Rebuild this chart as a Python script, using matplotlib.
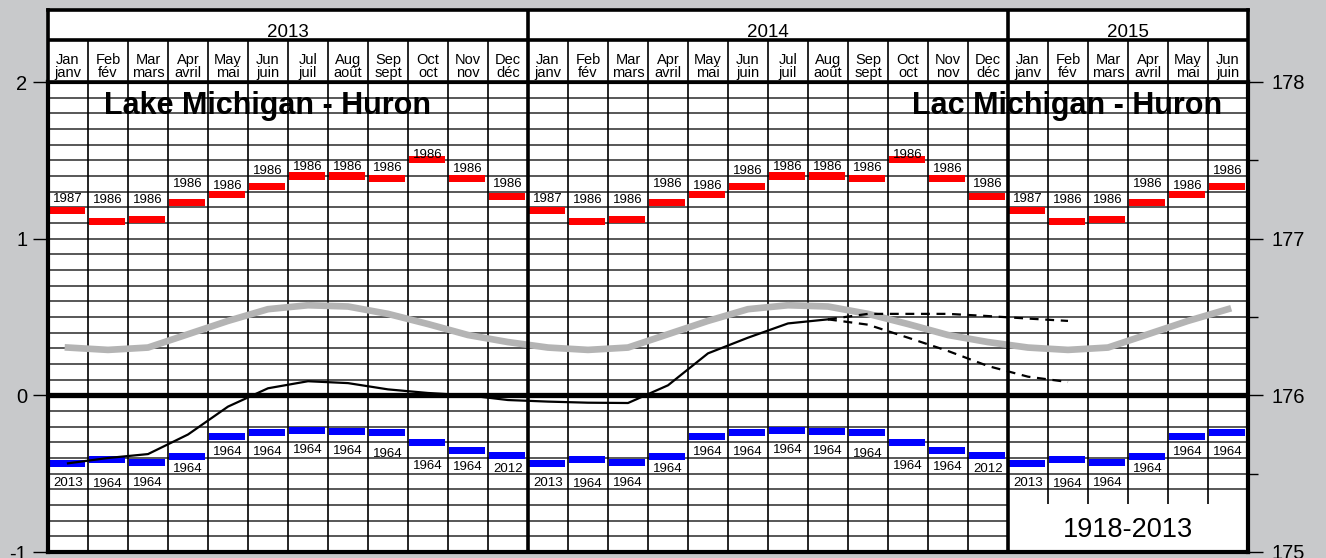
import matplotlib.pyplot as plt
from matplotlib.patches import Rectangle

plt.rcParams['font.family'] = ['Liberation Sans', 'DejaVu Sans']
plt.rcParams['axes.unicode_minus'] = False

# header labels
years = ["2013", "2014", "2015"]
months_en = ["Jan", "Feb", "Mar", "Apr", "May", "Jun", "Jul", "Aug", "Sep", "Oct", "Nov", "Dec"]
months_fr = ["janv", "fév", "mars", "avril", "mai", "juin", "juil", "août", "sept", "oct", "nov", "déc"]
n_months = 30  # Jan 2013 .. Jun 2015

# monthly records and long-term mean (1918-2013), metres above chart datum
record_high = [1.18, 1.112, 1.121, 1.229, 1.28, 1.33, 1.40, 1.40, 1.385, 1.504, 1.383, 1.268]
record_high_year = ["1987", "1986", "1986", "1986", "1986", "1986",
                    "1986", "1986", "1986", "1986", "1986", "1986"]
record_low = [-0.436, -0.41, -0.43, -0.391, -0.264, -0.238,
              -0.225, -0.231, -0.238, -0.302, -0.353, -0.385]
record_low_year = ["2013", "1964", "1964", "1964", "1964", "1964",
                   "1964", "1964", "1964", "1964", "1964", "2012"]
long_term_mean = [0.305, 0.29, 0.305, 0.39, 0.475, 0.55, 0.575, 0.567, 0.52, 0.455, 0.385, 0.34]

# recorded levels Jan 2013 - Aug 2014
observed = [-0.434, -0.40, -0.375, -0.25, -0.072, 0.045, 0.09, 0.078, 0.038, 0.015, 0.0, -0.03,
            -0.04, -0.047, -0.049, 0.064, 0.268, 0.368, 0.459, 0.485]
# projected range Aug 2014 - Feb 2015
forecast_high = [0.485, 0.52, 0.52, 0.52, 0.506, 0.49, 0.475]
forecast_low = [0.485, 0.451, 0.368, 0.283, 0.187, 0.119, 0.085]

# label offsets from the bars (pixels), as placed on the original
high_label_off = [11, 21, 20, 19, 9, 16, 9, 9, 10, 5, 10, 13]
low_label_off = [19, 24, 20, 12, 15, 19, 19, 19, 21, 23, 16, 13]

W, H = 1326, 558
fig = plt.figure(figsize=(W / 100, H / 100), dpi=100, facecolor="#c8c9cb")

# ---- main chart
ax = fig.add_axes([48 / W, (H - 552) / H, 1200 / W, 470 / H])
ax.set_facecolor("white")
ax.set_xlim(0, n_months)
ax.set_ylim(-1, 2)

ax.hlines([k / 10 for k in range(-9, 20)], 0, n_months, color="#2a2a2a", lw=1.1, zorder=1)
ax.vlines([m for m in range(1, n_months) if m % 12], -1, 2, color="black", lw=1.2, zorder=1)
ax.vlines([12, 24], -1, 2, color="black", lw=2.6, zorder=4)
ax.axhline(0, color="black", lw=3.8, zorder=2.5)

# empty box for the period note
ax.add_patch(Rectangle((24, -1), 6, 0.305, facecolor="white", edgecolor="none", zorder=2))
ax.text(27, -0.86, "1918-2013", ha="center", va="center", fontsize=19.5, zorder=5)

for i in range(n_months):
    m = i % 12
    ax.bar(i + 0.025, 0.045, bottom=record_high[m] - 0.0225, width=0.9, align="edge",
           color="#ff0000", zorder=3)
    ax.bar(i + 0.025, 0.045, bottom=record_low[m] - 0.0225, width=0.9, align="edge",
           color="#0000ff", zorder=3)
    ax.annotate(record_high_year[m], (i + 0.5, record_high[m]),
                xytext=(0, high_label_off[m] * 0.72), textcoords="offset points",
                ha="center", va="center", fontsize=9.5, zorder=5)
    ax.annotate(record_low_year[m], (i + 0.5, record_low[m]),
                xytext=(0, -low_label_off[m] * 0.72), textcoords="offset points",
                ha="center", va="center", fontsize=9.5, zorder=5)

x_all = [i + 0.5 for i in range(n_months)]
mean_series = [long_term_mean[i % 12] for i in range(n_months)]
ax.plot(x_all, mean_series, color="#b4b4b4", lw=4.8, zorder=3.5)

x_obs = [i + 0.5 for i in range(len(observed))]
ax.plot(x_obs, observed, color="black", lw=1.6, zorder=3.6)

x_fc = [i + 0.5 for i in range(len(observed) - 1, len(observed) - 1 + len(forecast_high))]
ax.plot(x_fc, forecast_high, color="black", lw=1.6, ls=(0, (4, 3)), zorder=3.6)
ax.plot(x_fc, forecast_low, color="black", lw=1.6, ls=(0, (4, 3)), zorder=3.6)

ax.text(1.4, 1.845, "Lake Michigan - Huron", ha="left", va="center",
        fontsize=22, fontweight="bold", zorder=5)
ax.text(29.35, 1.845, "Lac Michigan - Huron", ha="right", va="center",
        fontsize=22, fontweight="bold", zorder=5)

ax.set_xticks([])
ax.set_yticks([-1, 0, 1, 2])
ax.set_yticklabels(["-1", "0", "1", "2"])
ax.tick_params(axis="y", direction="out", length=11, width=1, labelsize=14.5, pad=4)
for sp in ax.spines.values():
    sp.set_linewidth(3)
    sp.set_zorder(6)

ax2 = ax.twinx()
ax2.set_ylim(175, 178)
ax2.set_yticks([175, 176, 177, 178])
ax2.set_yticks([175.5, 176.5, 177.5], minor=True)
ax2.tick_params(axis="y", which="major", direction="out", length=11, width=1, labelsize=14.5, pad=6)
ax2.tick_params(axis="y", which="minor", direction="out", length=7, width=1)
for sp in ax2.spines.values():
    sp.set_visible(False)

# ---- header (years and months)
hx = fig.add_axes([48 / W, (H - 82) / H, 1200 / W, 72 / H])
hx.set_facecolor("white")
hx.set_xlim(0, n_months)
hx.set_ylim(72, 0)
hx.set_xticks([])
hx.set_yticks([])
for sp in hx.spines.values():
    sp.set_linewidth(2.6)
hx.axhline(30, color="black", lw=2.6)
hx.vlines([m for m in range(1, n_months) if m % 12], 30, 72, color="black", lw=1.2)
hx.vlines([12, 24], 0, 72, color="black", lw=2.6)

year_spans = [(0, 12), (12, 24), (24, 30)]
for (a, b), yr in zip(year_spans, years):
    hx.text((a + b) / 2, 27, yr, ha="center", va="baseline", fontsize=13.5)
for i in range(n_months):
    m = i % 12
    hx.text(i + 0.5, 53.5, months_en[m], ha="center", va="baseline", fontsize=10.5)
    hx.text(i + 0.5, 66.5, months_fr[m], ha="center", va="baseline", fontsize=10.5)

fig.savefig("out.png", dpi=100, facecolor=fig.get_facecolor())
